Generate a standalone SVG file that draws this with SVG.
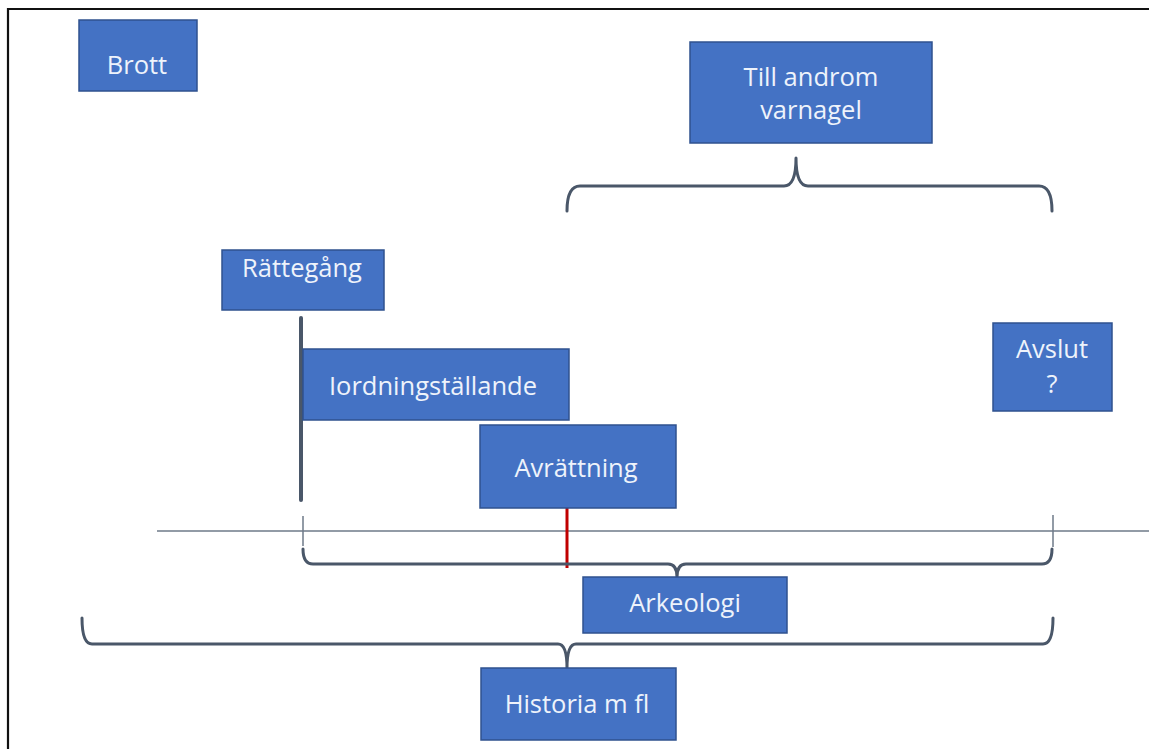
<svg xmlns="http://www.w3.org/2000/svg" width="1149" height="749" viewBox="0 0 1149 749">
<style>
.box{fill:#4472C4;stroke:#2F528F;stroke-width:1.5}
.lbl{font-family:"Open Sans","Noto Sans","Liberation Sans",sans-serif;font-size:25.5px;fill:#EEF3FB;text-anchor:middle}
.brace{fill:none;stroke:#4A5769;stroke-width:3;stroke-linecap:round;stroke-linejoin:round}
.thin{fill:none;stroke:#6E7A88;stroke-width:1.5}
</style>
<rect x="0" y="0" width="1149" height="749" fill="#ffffff"/>
<path d="M8,749 L8,9 L1149,9" fill="none" stroke="#111111" stroke-width="2.2"/>
<g id="connectors">
  <line class="thin" x1="157" y1="531" x2="1149" y2="531"/>
  <line class="thin" x1="303" y1="516" x2="303" y2="546"/>
  <line class="thin" x1="1053" y1="515" x2="1053" y2="547"/>
  <line x1="301" y1="318" x2="301" y2="500" stroke="#4A5769" stroke-width="4" stroke-linecap="round"/>
  <line x1="567" y1="508" x2="567" y2="568" stroke="#C00000" stroke-width="3"/>
  <path class="brace" d="M567,211 Q567,186 580,186 L784,186 Q796,186 796,158 M1052,211 Q1052,186 1039,186 L808,186 Q796,186 796,158"/>
  <path class="brace" d="M303,549 Q303,564 313,564 L668,564 Q677,564 677,577 M1052,549 Q1052,564 1042,564 L686,564 Q677,564 677,577"/>
  <path class="brace" d="M82,618 Q82,644 92,644 L558,644 Q567,644 567,668 M1053,618 Q1053,644 1043,644 L576,644 Q567,644 567,668"/>
</g>
<g id="brott"><rect class="box" x="79" y="20" width="118" height="71"/><text class="lbl" x="137" y="74">Brott</text></g>
<g id="till-androm-varnagel"><rect class="box" x="690" y="42" width="242" height="101"/><text class="lbl" x="811" y="86">Till androm</text><text class="lbl" x="811" y="119">varnagel</text></g>
<g id="rattegang"><rect class="box" x="222" y="250" width="162" height="60"/><text class="lbl" x="302" y="277">Rättegång</text></g>
<g id="iordningstallande"><rect class="box" x="303" y="349" width="266" height="71"/><text class="lbl" x="433" y="395">Iordningställande</text></g>
<g id="avrattning"><rect class="box" x="480" y="425" width="196" height="83"/><text class="lbl" x="576" y="477">Avrättning</text></g>
<g id="avslut"><rect class="box" x="993" y="323" width="119" height="88"/><text class="lbl" x="1052" y="358">Avslut</text><text class="lbl" x="1052" y="393">?</text></g>
<g id="arkeologi"><rect class="box" x="583" y="577" width="204" height="56"/><text class="lbl" x="685" y="612">Arkeologi</text></g>
<g id="historia"><rect class="box" x="481" y="668" width="195" height="72"/><text class="lbl" x="577" y="713">Historia m fl</text></g>
</svg>
